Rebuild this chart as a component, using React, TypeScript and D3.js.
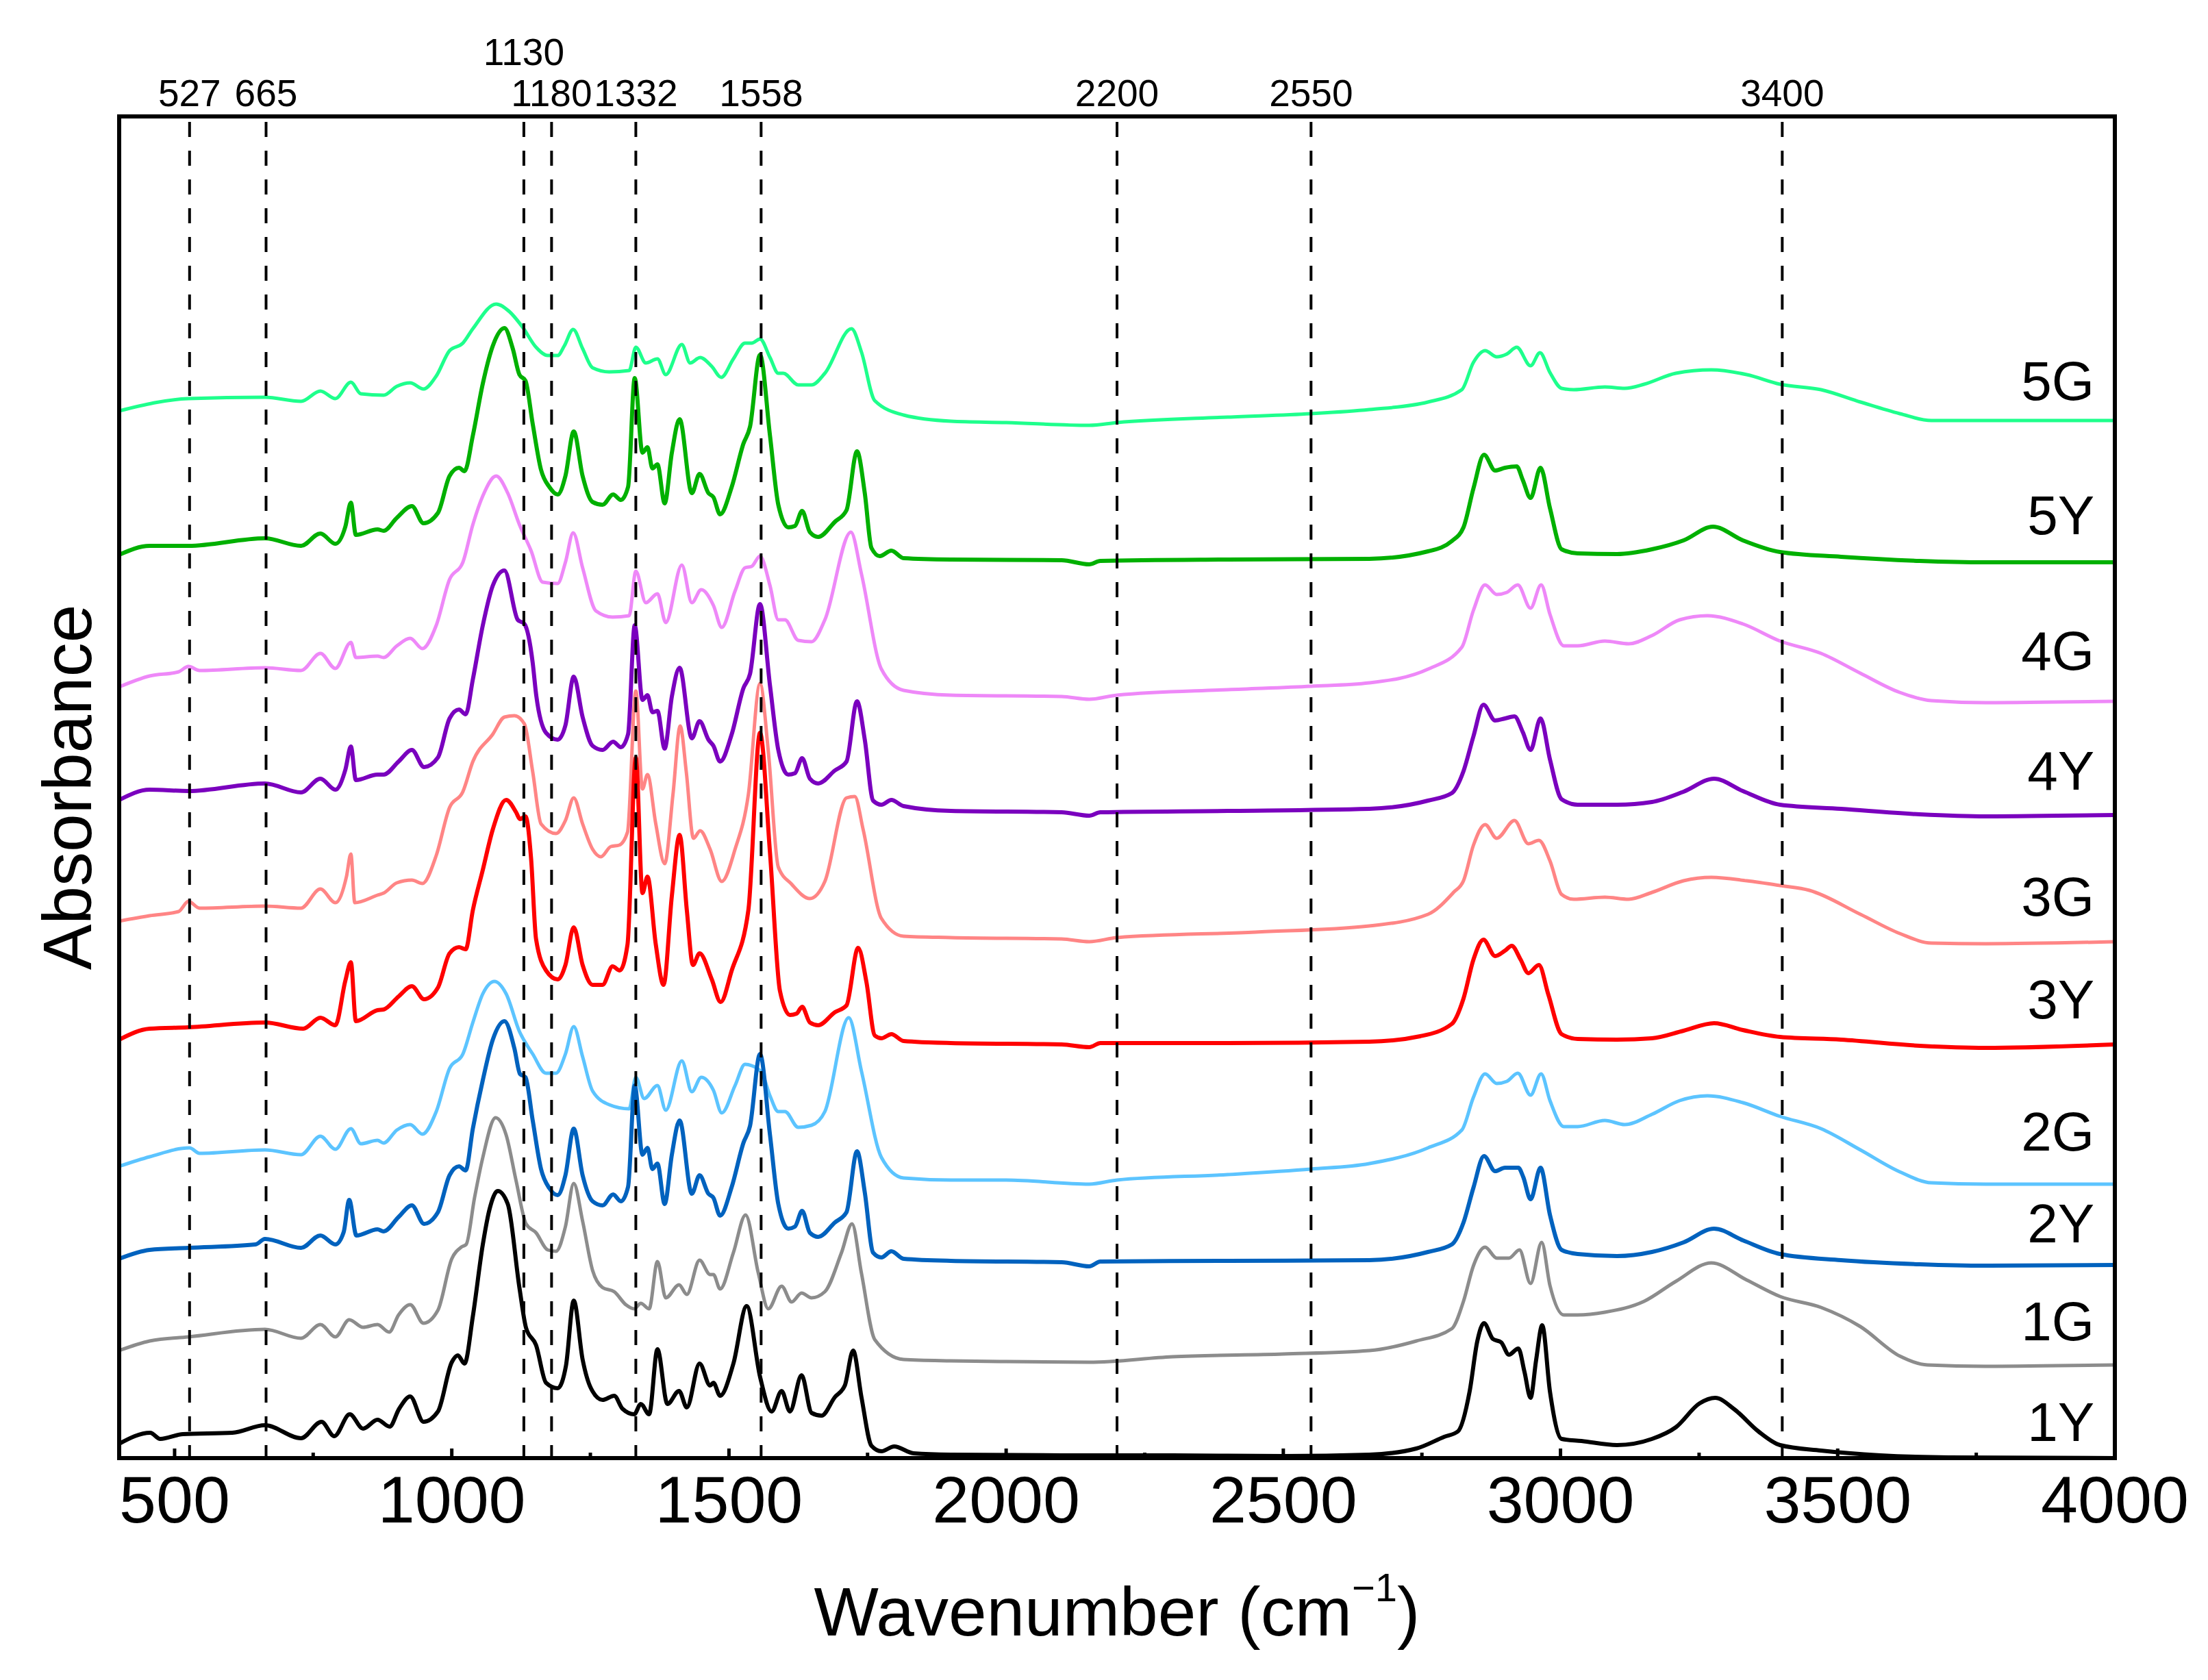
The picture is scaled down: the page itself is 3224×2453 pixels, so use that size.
import React from 'react';
import * as d3 from 'd3';

// FTIR spectra, stacked with offsets (wavenumber, absorbance + offset)
const s1Y: [number, number][] = [
  [400, 0.21], [456, 0.37], [474, 0.28], [515, 0.35], [604, 0.37], [663, 0.48], [728, 0.29], [765, 0.53], [788, 0.32],
  [816, 0.64], [840, 0.43], [866, 0.56], [888, 0.46], [905, 0.72], [925, 0.9], [949, 0.53], [975, 0.68], [1000, 1.4],
  [1011, 1.5], [1023, 1.38], [1038, 2.07], [1056, 3.12], [1068, 3.63], [1083, 3.9], [1101, 3.71], [1122, 2.49], [1134, 1.9],
  [1152, 1.65], [1170, 1.1], [1191, 1.02], [1206, 1.35], [1220, 2.3], [1236, 1.44], [1251, 1.02], [1272, 0.85], [1293, 0.91],
  [1308, 0.72], [1329, 0.64], [1341, 0.79], [1356, 0.64], [1371, 1.59], [1389, 0.79], [1410, 0.98], [1424, 0.74], [1447, 1.38],
  [1466, 1.06], [1472, 1.1], [1484, 0.91], [1508, 1.38], [1532, 2.22], [1556, 1.19], [1577, 0.68], [1595, 0.98], [1610, 0.68],
  [1631, 1.21], [1649, 0.66], [1667, 0.62], [1691, 0.89], [1709, 1.06], [1724, 1.57], [1739, 0.89], [1757, 0.18], [1775, 0.1],
  [1798, 0.17], [1833, 0.07], [1900, 0.05], [2100, 0.04], [2300, 0.04], [2500, 0.03], [2655, 0.05], [2740, 0.14], [2790, 0.31],
  [2815, 0.39], [2836, 0.97], [2850, 1.71], [2862, 1.97], [2878, 1.74], [2893, 1.69], [2907, 1.51], [2924, 1.6], [2935, 1.26],
  [2946, 0.88], [2956, 1.43], [2967, 1.94], [2981, 0.97], [3002, 0.28], [3038, 0.25], [3102, 0.19], [3165, 0.28], [3208, 0.45],
  [3251, 0.8], [3279, 0.88], [3314, 0.71], [3357, 0.39], [3396, 0.19], [3470, 0.11], [3577, 0.04], [3700, 0.01], [4000, 0.0],
];

const s1G: [number, number][] = [
  [400, 1.57], [455, 1.71], [525, 1.77], [663, 1.88], [728, 1.75], [763, 1.95], [790, 1.77], [815, 2.02], [840, 1.91],
  [866, 1.95], [887, 1.84], [904, 2.09], [925, 2.24], [949, 1.97], [975, 2.16], [1000, 2.91], [1017, 3.08], [1026, 3.12],
  [1041, 3.8], [1056, 4.39], [1079, 4.97], [1098, 4.72], [1116, 4.05], [1134, 3.42], [1152, 3.29], [1173, 3.04], [1188, 3.02],
  [1205, 3.38], [1220, 4.01], [1236, 3.46], [1254, 2.74], [1272, 2.49], [1293, 2.43], [1314, 2.24], [1329, 2.18], [1341, 2.26],
  [1356, 2.18], [1371, 2.87], [1386, 2.34], [1410, 2.53], [1424, 2.39], [1447, 2.89], [1466, 2.68], [1472, 2.68], [1484, 2.47],
  [1508, 3.0], [1530, 3.55], [1553, 2.7], [1571, 2.18], [1595, 2.51], [1613, 2.28], [1631, 2.41], [1649, 2.34], [1673, 2.43],
  [1703, 3.0], [1722, 3.42], [1739, 2.7], [1763, 1.73], [1815, 1.44], [1900, 1.42], [2000, 1.41], [2150, 1.4], [2300, 1.48],
  [2500, 1.52], [2655, 1.57], [2740, 1.71], [2804, 1.89], [2825, 2.29], [2843, 2.81], [2864, 3.08], [2885, 2.92], [2907, 2.92],
  [2926, 3.04], [2946, 2.55], [2966, 3.15], [2981, 2.52], [3006, 2.09], [3031, 2.09], [3080, 2.13], [3151, 2.29], [3208, 2.58],
  [3272, 2.85], [3336, 2.6], [3396, 2.36], [3470, 2.2], [3541, 1.92], [3612, 1.49], [3662, 1.36], [3767, 1.34], [4000, 1.36],
];

const s2Y: [number, number][] = [
  [400, 2.91], [455, 3.04], [525, 3.07], [646, 3.12], [663, 3.2], [728, 3.07], [763, 3.25], [790, 3.12], [805, 3.3],
  [815, 3.77], [828, 3.25], [866, 3.34], [877, 3.31], [904, 3.52], [928, 3.69], [950, 3.42], [975, 3.59], [996, 4.13],
  [1013, 4.26], [1025, 4.2], [1038, 4.81], [1056, 5.52], [1074, 6.11], [1095, 6.38], [1113, 5.98], [1123, 5.61], [1133, 5.56],
  [1146, 4.93], [1161, 4.22], [1176, 3.94], [1191, 3.84], [1205, 4.13], [1220, 4.81], [1236, 4.13], [1254, 3.75], [1272, 3.69],
  [1291, 3.85], [1305, 3.75], [1318, 3.96], [1330, 5.44], [1344, 4.43], [1353, 4.53], [1362, 4.22], [1371, 4.3], [1384, 3.71],
  [1397, 4.43], [1411, 4.93], [1433, 3.86], [1447, 4.13], [1463, 3.86], [1472, 3.8], [1484, 3.54], [1505, 3.96], [1526, 4.6],
  [1538, 4.85], [1556, 5.9], [1574, 4.72], [1589, 3.71], [1607, 3.35], [1619, 3.38], [1632, 3.61], [1646, 3.29], [1661, 3.23],
  [1691, 3.44], [1712, 3.59], [1731, 4.48], [1745, 3.88], [1760, 3.0], [1775, 2.93], [1793, 3.02], [1815, 2.91], [1900, 2.88],
  [2100, 2.86], [2150, 2.8], [2170, 2.87], [2400, 2.88], [2655, 2.89], [2761, 3.01], [2804, 3.12], [2825, 3.44], [2843, 3.95],
  [2862, 4.41], [2882, 4.19], [2900, 4.24], [2924, 4.24], [2933, 4.1], [2946, 3.78], [2964, 4.24], [2981, 3.55], [3002, 3.04],
  [3031, 2.98], [3102, 2.95], [3165, 3.01], [3222, 3.15], [3277, 3.35], [3329, 3.18], [3396, 2.98], [3506, 2.89], [3648, 2.83],
  [3767, 2.81], [4000, 2.82],
];

const s2G: [number, number][] = [
  [400, 4.26], [455, 4.4], [527, 4.53], [545, 4.45], [663, 4.5], [728, 4.43], [763, 4.7], [790, 4.51], [818, 4.81],
  [836, 4.59], [866, 4.64], [877, 4.6], [901, 4.79], [925, 4.87], [947, 4.73], [972, 5.06], [996, 5.69], [1020, 5.9],
  [1038, 6.36], [1056, 6.78], [1077, 6.96], [1098, 6.78], [1122, 6.23], [1146, 5.9], [1170, 5.62], [1188, 5.62], [1205, 5.9],
  [1220, 6.3], [1236, 5.86], [1254, 5.36], [1284, 5.16], [1320, 5.1], [1332, 5.56], [1347, 5.25], [1371, 5.44], [1386, 5.08],
  [1415, 5.8], [1433, 5.35], [1450, 5.56], [1472, 5.37], [1487, 5.04], [1511, 5.44], [1529, 5.75], [1541, 5.73], [1559, 5.63],
  [1574, 5.29], [1589, 5.06], [1601, 5.06], [1625, 4.83], [1649, 4.86], [1673, 5.06], [1716, 6.43], [1739, 5.65], [1775, 4.39],
  [1815, 4.09], [1900, 4.06], [2000, 4.06], [2150, 4.0], [2200, 4.06], [2400, 4.14], [2550, 4.22], [2655, 4.3], [2761, 4.53],
  [2822, 4.79], [2843, 5.27], [2864, 5.61], [2885, 5.47], [2903, 5.5], [2923, 5.62], [2946, 5.3], [2965, 5.61], [2981, 5.22],
  [3006, 4.84], [3031, 4.84], [3080, 4.93], [3116, 4.87], [3165, 5.02], [3215, 5.22], [3265, 5.29], [3329, 5.19], [3396, 4.99],
  [3470, 4.81], [3541, 4.5], [3612, 4.18], [3669, 4.02], [3767, 4.0], [4000, 4.0],
];

const s3Y: [number, number][] = [
  [400, 6.11], [455, 6.27], [525, 6.29], [663, 6.36], [732, 6.27], [763, 6.43], [790, 6.32], [808, 6.97], [818, 7.24],
  [827, 6.38], [866, 6.54], [877, 6.55], [904, 6.74], [928, 6.89], [950, 6.7], [975, 6.87], [996, 7.37], [1013, 7.46],
  [1025, 7.43], [1038, 8.0], [1056, 8.59], [1074, 9.18], [1098, 9.61], [1116, 9.43], [1123, 9.33], [1133, 9.37], [1143, 8.76],
  [1152, 7.58], [1170, 7.12], [1191, 6.99], [1205, 7.2], [1220, 7.75], [1236, 7.2], [1254, 6.91], [1272, 6.91], [1290, 7.18],
  [1303, 7.12], [1317, 7.5], [1332, 10.23], [1344, 8.25], [1353, 8.49], [1368, 7.5], [1382, 6.91], [1397, 8.21], [1411, 9.1],
  [1424, 8.0], [1435, 7.2], [1447, 7.37], [1469, 6.99], [1485, 6.66], [1505, 7.12], [1535, 8.0], [1556, 10.59], [1574, 8.84],
  [1592, 6.82], [1610, 6.47], [1622, 6.49], [1632, 6.59], [1646, 6.36], [1661, 6.32], [1691, 6.51], [1712, 6.61], [1733, 7.45],
  [1748, 6.95], [1763, 6.17], [1775, 6.13], [1793, 6.19], [1815, 6.09], [1900, 6.06], [2100, 6.04], [2150, 6.0], [2170, 6.06],
  [2400, 6.06], [2655, 6.08], [2747, 6.16], [2804, 6.34], [2825, 6.71], [2843, 7.28], [2861, 7.57], [2882, 7.33], [2900, 7.41],
  [2912, 7.48], [2928, 7.28], [2942, 7.08], [2961, 7.2], [2978, 6.77], [3002, 6.19], [3031, 6.12], [3102, 6.11], [3165, 6.13],
  [3222, 6.24], [3277, 6.35], [3329, 6.25], [3396, 6.15], [3506, 6.11], [3648, 6.02], [3767, 5.99], [4000, 6.04],
];

const s3G: [number, number][] = [
  [400, 7.84], [455, 7.92], [507, 7.98], [525, 8.13], [545, 8.03], [663, 8.06], [728, 8.03], [763, 8.31], [790, 8.11],
  [810, 8.49], [818, 8.82], [825, 8.11], [866, 8.22], [877, 8.25], [901, 8.4], [928, 8.44], [947, 8.39], [972, 8.8],
  [996, 9.5], [1020, 9.73], [1038, 10.17], [1074, 10.57], [1095, 10.82], [1113, 10.84], [1131, 10.72], [1146, 10.02],
  [1161, 9.26], [1188, 9.12], [1205, 9.31], [1220, 9.64], [1236, 9.26], [1254, 8.89], [1269, 8.78], [1287, 8.93], [1302, 8.95],
  [1317, 9.14], [1332, 11.2], [1344, 9.77], [1353, 9.98], [1368, 9.26], [1384, 8.68], [1399, 9.69], [1412, 10.69], [1423, 10.02],
  [1436, 9.05], [1448, 9.16], [1466, 8.89], [1487, 8.42], [1511, 8.89], [1535, 9.69], [1556, 11.31], [1571, 10.32], [1589, 8.63],
  [1613, 8.38], [1646, 8.17], [1673, 8.42], [1712, 9.64], [1727, 9.66], [1742, 9.18], [1775, 7.88], [1815, 7.62], [1900, 7.6],
  [2100, 7.58], [2150, 7.54], [2200, 7.6], [2450, 7.68], [2655, 7.77], [2761, 7.94], [2807, 8.26], [2825, 8.43], [2843, 8.95],
  [2864, 9.25], [2885, 9.05], [2917, 9.31], [2942, 8.97], [2961, 9.02], [2981, 8.72], [3002, 8.23], [3024, 8.16], [3080, 8.19],
  [3123, 8.16], [3165, 8.26], [3222, 8.43], [3272, 8.48], [3336, 8.43], [3396, 8.36], [3449, 8.29], [3541, 7.94], [3612, 7.66],
  [3669, 7.52], [3767, 7.51], [4000, 7.54],
];

const s4Y: [number, number][] = [
  [400, 9.61], [455, 9.76], [525, 9.74], [663, 9.85], [728, 9.72], [763, 9.92], [790, 9.76], [808, 10.05], [818, 10.39],
  [827, 9.9], [866, 9.98], [877, 9.98], [904, 10.17], [928, 10.34], [950, 10.09], [975, 10.23], [996, 10.8], [1013, 10.93],
  [1025, 10.86], [1038, 11.37], [1056, 12.16], [1074, 12.74], [1095, 12.96], [1119, 12.24], [1131, 12.18], [1146, 11.61],
  [1152, 11.16], [1170, 10.59], [1191, 10.49], [1205, 10.7], [1220, 11.41], [1236, 10.82], [1254, 10.4], [1272, 10.34],
  [1291, 10.46], [1305, 10.38], [1318, 10.57], [1330, 12.16], [1344, 11.07], [1353, 11.14], [1362, 10.89], [1371, 10.91],
  [1384, 10.36], [1397, 11.12], [1411, 11.54], [1433, 10.51], [1447, 10.76], [1463, 10.49], [1472, 10.4], [1484, 10.17],
  [1505, 10.57], [1526, 11.24], [1538, 11.45], [1556, 12.47], [1574, 11.28], [1589, 10.34], [1607, 9.98], [1619, 10.0],
  [1632, 10.22], [1646, 9.92], [1661, 9.85], [1691, 10.04], [1712, 10.17], [1731, 11.05], [1745, 10.49], [1760, 9.6],
  [1775, 9.54], [1793, 9.61], [1815, 9.52], [1900, 9.45], [2100, 9.43], [2150, 9.38], [2170, 9.43], [2400, 9.45], [2655, 9.48],
  [2761, 9.6], [2804, 9.71], [2825, 10.03], [2843, 10.54], [2861, 11.0], [2882, 10.77], [2900, 10.8], [2917, 10.83],
  [2932, 10.6], [2946, 10.34], [2964, 10.8], [2981, 10.2], [3002, 9.62], [3031, 9.54], [3102, 9.54], [3165, 9.58], [3222, 9.73],
  [3277, 9.92], [3329, 9.74], [3396, 9.54], [3506, 9.48], [3648, 9.4], [3767, 9.37], [4000, 9.39],
];

const s4G: [number, number][] = [
  [400, 11.26], [455, 11.42], [507, 11.48], [525, 11.56], [545, 11.5], [663, 11.54], [728, 11.5], [763, 11.75], [790, 11.53],
  [818, 11.91], [827, 11.69], [866, 11.71], [877, 11.69], [901, 11.86], [925, 11.97], [947, 11.82], [972, 12.16], [996, 12.83],
  [1020, 13.08], [1038, 13.63], [1056, 14.05], [1080, 14.34], [1101, 14.09], [1122, 13.63], [1143, 13.25], [1164, 12.79],
  [1191, 12.77], [1205, 13.08], [1219, 13.51], [1236, 13.0], [1260, 12.37], [1290, 12.28], [1320, 12.3], [1332, 12.95],
  [1350, 12.49], [1371, 12.62], [1386, 12.2], [1415, 13.04], [1433, 12.49], [1450, 12.68], [1472, 12.45], [1487, 12.13],
  [1511, 12.66], [1529, 13.0], [1541, 13.02], [1556, 13.17], [1574, 12.74], [1589, 12.24], [1601, 12.24], [1625, 11.94],
  [1649, 11.92], [1673, 12.24], [1720, 13.52], [1739, 12.91], [1775, 11.52], [1815, 11.21], [1900, 11.14], [2100, 11.12],
  [2150, 11.08], [2200, 11.14], [2400, 11.22], [2550, 11.27], [2655, 11.32], [2761, 11.52], [2822, 11.84], [2843, 12.38],
  [2864, 12.75], [2885, 12.61], [2903, 12.64], [2923, 12.75], [2946, 12.41], [2965, 12.75], [2981, 12.32], [3006, 11.86],
  [3031, 11.86], [3080, 11.93], [3123, 11.89], [3165, 12.01], [3215, 12.24], [3265, 12.3], [3329, 12.18], [3396, 11.93],
  [3470, 11.75], [3541, 11.46], [3612, 11.18], [3669, 11.06], [3767, 11.03], [4000, 11.05],
];

const s5Y: [number, number][] = [
  [400, 13.19], [455, 13.32], [525, 13.32], [663, 13.43], [728, 13.32], [763, 13.5], [790, 13.35], [808, 13.6], [818, 13.95],
  [827, 13.48], [866, 13.56], [877, 13.54], [901, 13.73], [928, 13.9], [949, 13.65], [975, 13.8], [996, 14.34], [1013, 14.46],
  [1023, 14.41], [1038, 14.93], [1056, 15.69], [1074, 16.24], [1095, 16.5], [1110, 16.2], [1122, 15.82], [1133, 15.73],
  [1146, 15.1], [1161, 14.43], [1176, 14.18], [1191, 14.07], [1205, 14.34], [1220, 14.99], [1236, 14.34], [1254, 13.96],
  [1272, 13.92], [1291, 14.07], [1305, 13.99], [1318, 14.18], [1330, 15.77], [1344, 14.68], [1353, 14.76], [1362, 14.45],
  [1371, 14.51], [1384, 13.94], [1397, 14.68], [1411, 15.17], [1433, 14.09], [1447, 14.37], [1463, 14.09], [1472, 14.03],
  [1484, 13.78], [1505, 14.18], [1526, 14.81], [1538, 15.06], [1556, 16.11], [1574, 14.93], [1589, 13.92], [1607, 13.59],
  [1619, 13.61], [1632, 13.83], [1646, 13.52], [1661, 13.45], [1691, 13.67], [1712, 13.84], [1731, 14.7], [1745, 14.09],
  [1757, 13.29], [1772, 13.17], [1793, 13.25], [1815, 13.14], [1900, 13.12], [2100, 13.11], [2150, 13.05], [2170, 13.1],
  [2400, 13.12], [2655, 13.13], [2761, 13.24], [2804, 13.39], [2825, 13.59], [2843, 14.16], [2862, 14.65], [2882, 14.42],
  [2900, 14.46], [2921, 14.48], [2932, 14.28], [2946, 14.02], [2964, 14.46], [2981, 13.87], [3002, 13.27], [3031, 13.21],
  [3102, 13.2], [3165, 13.27], [3222, 13.4], [3275, 13.6], [3329, 13.4], [3396, 13.23], [3506, 13.16], [3648, 13.1],
  [3767, 13.08], [4000, 13.08],
];

const s5G: [number, number][] = [
  [400, 15.29], [525, 15.47], [663, 15.49], [728, 15.43], [763, 15.58], [790, 15.47], [818, 15.71], [836, 15.54], [877, 15.52],
  [901, 15.65], [925, 15.7], [949, 15.61], [972, 15.8], [996, 16.17], [1020, 16.28], [1038, 16.49], [1080, 16.85], [1104, 16.74],
  [1128, 16.51], [1152, 16.22], [1173, 16.1], [1191, 16.1], [1203, 16.24], [1219, 16.48], [1236, 16.2], [1254, 15.92],
  [1284, 15.86], [1320, 15.88], [1332, 16.22], [1350, 15.99], [1371, 16.05], [1386, 15.82], [1415, 16.26], [1430, 15.99],
  [1448, 16.07], [1469, 15.94], [1486, 15.78], [1508, 16.05], [1529, 16.28], [1541, 16.28], [1556, 16.34], [1574, 16.07],
  [1589, 15.84], [1598, 15.84], [1625, 15.67], [1649, 15.67], [1673, 15.84], [1721, 16.49], [1739, 16.15], [1763, 15.44],
  [1815, 15.23], [1900, 15.14], [2000, 15.12], [2150, 15.08], [2200, 15.12], [2400, 15.2], [2550, 15.25], [2655, 15.31],
  [2761, 15.42], [2822, 15.6], [2843, 16.0], [2864, 16.17], [2885, 16.08], [2903, 16.12], [2921, 16.22], [2946, 15.95],
  [2963, 16.14], [2981, 15.85], [3002, 15.62], [3024, 15.6], [3080, 15.64], [3116, 15.62], [3151, 15.68], [3208, 15.84],
  [3272, 15.89], [3336, 15.82], [3396, 15.68], [3470, 15.6], [3541, 15.42], [3612, 15.25], [3669, 15.15], [3767, 15.15],
  [4000, 15.15],
];

// drawn in this order (last on top)
const seriesNames = ['5G', '5Y', '4G', '4Y', '3G', '3Y', '2G', '2Y', '1G', '1Y'];
const seriesData = [s5G, s5Y, s4G, s4Y, s3G, s3Y, s2G, s2Y, s1G, s1Y];
const seriesColors = ['#1EFF8C', '#00B000', '#EE88F8', '#7A00BE', '#FF8585', '#FF0000', '#5CC4FF', '#0062BE', '#8C8C8C', '#000000'];
const labelLevels = [15.45, 13.49, 11.51, 9.76, 7.92, 6.42, 4.49, 3.15, 1.72, 0.25];

const majorTicks = [500, 1000, 1500, 2000, 2500, 3000, 3500, 4000];
const minorTicks = [750, 1250, 1750, 2250, 2750, 3250, 3750];
const markerLines = [527, 665, 1130, 1180, 1332, 1558, 2200, 2550, 3400];
const raisedMarkers = [1130];

const W = 3224;
const H = 2453;
const plot = { left: 174, right: 3088, top: 170, bottom: 2129 };
const font = '"Liberation Sans", Arial, Helvetica, sans-serif';

export default function App() {
  const x = d3.scaleLinear().domain([400, 4000]).range([plot.left, plot.right]);
  const y = d3.scaleLinear().domain([0, 19.59]).range([plot.bottom, plot.top]);

  const line = d3.line<[number, number]>()
    .x(d => x(d[0]))
    .y(d => y(d[1]))
    .curve(d3.curveMonotoneX);

  return (
    <svg width={W} height={H} style={{ position: 'absolute', left: 0, top: 0, background: '#fff' }} fontFamily={font}>
      <defs>
        <clipPath id="plotClip">
          <rect x={plot.left} y={plot.top} width={plot.right - plot.left} height={plot.bottom - plot.top} />
        </clipPath>
      </defs>
      <rect width={W} height={H} fill="#fff" />

      <g clipPath="url(#plotClip)">
        {seriesData.map((s, i) => (
          <path
            key={seriesNames[i]}
            d={line(s) || ''}
            fill="none"
            stroke={seriesColors[i]}
            strokeWidth={seriesNames[i].endsWith('Y') ? 6 : 5}
            strokeLinejoin="round"
          />
        ))}
      </g>

      {markerLines.map(m => (
        <line key={'m' + m} x1={x(m)} x2={x(m)} y1={plot.top + 8} y2={plot.bottom}
          stroke="#000" strokeWidth={4} strokeDasharray="22 20" />
      ))}

      {markerLines.map(m => (
        <text key={'t' + m} x={x(m)} y={raisedMarkers.includes(m) ? 95 : 155}
          fontSize={55} textAnchor="middle" fill="#000">{m}</text>
      ))}

      {seriesNames.map((n, i) => (
        <text key={'l' + n} x={3058} y={y(labelLevels[i])} fontSize={80} textAnchor="end" fill="#000">{n}</text>
      ))}

      {majorTicks.map(t => (
        <line key={'M' + t} x1={x(t)} x2={x(t)} y1={plot.bottom} y2={plot.bottom - 14} stroke="#000" strokeWidth={5} />
      ))}
      {minorTicks.map(t => (
        <line key={'n' + t} x1={x(t)} x2={x(t)} y1={plot.bottom} y2={plot.bottom - 8} stroke="#000" strokeWidth={5} />
      ))}
      {majorTicks.map(t => (
        <text key={'L' + t} x={x(t)} y={2223} fontSize={97} textAnchor="middle" fill="#000">{t}</text>
      ))}

      <rect x={plot.left} y={plot.top} width={plot.right - plot.left} height={plot.bottom - plot.top}
        fill="none" stroke="#000" strokeWidth={6} />

      <text x={(plot.left + plot.right) / 2} y={2388} fontSize={100} textAnchor="middle" fill="#000">
        Wavenumber (cm<tspan fontSize={58} dy={-50}>−1</tspan><tspan dy={50}>)</tspan>
      </text>
      <text transform={`translate(133, ${(plot.top + plot.bottom) / 2}) rotate(-90)`} fontSize={100}
        textAnchor="middle" fill="#000">Absorbance</text>
    </svg>
  );
}
